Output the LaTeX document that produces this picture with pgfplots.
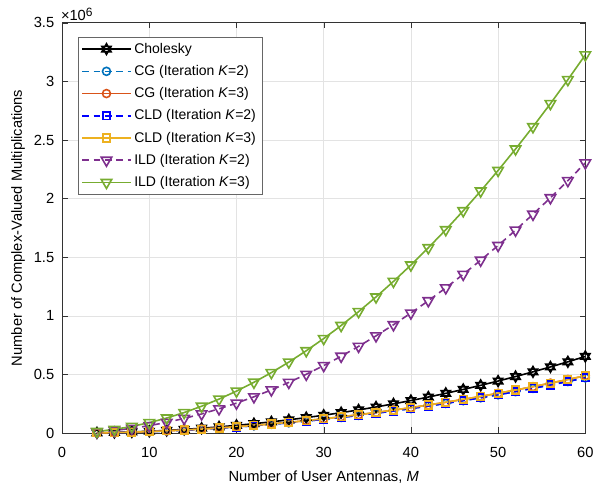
\documentclass[border=0pt]{standalone}
\usepackage{fontspec}
\setmainfont{Liberation Sans}
\usepackage{pgfplots}
\pgfplotsset{compat=1.18}

\definecolor{mblack}{rgb}{0,0,0}
\definecolor{mblue}{rgb}{0,0.447,0.741}
\definecolor{morange}{rgb}{0.85,0.325,0.098}
\definecolor{mpureblue}{rgb}{0,0,1}
\definecolor{myellow}{rgb}{0.929,0.694,0.125}
\definecolor{mpurple}{rgb}{0.494,0.184,0.556}
\definecolor{mgreen}{rgb}{0.466,0.674,0.188}

% six-pointed star marker (two triangles)
\pgfdeclareplotmark{hexagram}{%
  \pgfpathmoveto{\pgfqpointpolar{90}{\pgfplotmarksize}}%
  \pgfpathlineto{\pgfqpointpolar{210}{\pgfplotmarksize}}%
  \pgfpathlineto{\pgfqpointpolar{330}{\pgfplotmarksize}}%
  \pgfpathclose
  \pgfpathmoveto{\pgfqpointpolar{270}{\pgfplotmarksize}}%
  \pgfpathlineto{\pgfqpointpolar{30}{\pgfplotmarksize}}%
  \pgfpathlineto{\pgfqpointpolar{150}{\pgfplotmarksize}}%
  \pgfpathclose
  \pgfusepathqstroke
}

\begin{document}
\fontsize{11}{13}\selectfont
\begin{tikzpicture}
\begin{axis}[
  name=main,
  scale only axis,
  width=392pt, height=307.5pt,
  xmin=0, xmax=60, ymin=0, ymax=3.5e6,
  xtick={0,10,...,60},
  ytick={0,0.5e6,1e6,1.5e6,2e6,2.5e6,3e6,3.5e6},
  scaled y ticks=base 10:-6,
  ytick scale label code/.code={×10\raisebox{0.5ex}{\fontsize{9}{10}\selectfont 6}},
  every y tick scale label/.style={at={(axis description cs:0,1)}, anchor=south west, inner sep=0pt, xshift=1pt, yshift=1.5pt},
  /pgf/number format/assume math mode=true,
  tick align=inside,
  grid=major,
  major grid style={gray!22, line width=0.5pt},
  axis line style={black!80, line width=0.6pt},
  tick style={black!80},
  xlabel={Number of User Antennas, \textit{M}},
  ylabel={Number of Complex-Valued Multiplications},
  xlabel style={at={(axis description cs:0.5,0)}, anchor=center, yshift=-33pt},
  ylabel style={at={(axis description cs:-0.084,0.5)}, anchor=center},
  ticklabel style={font=\fontsize{11}{13}\selectfont},
  xticklabel style={yshift=-7pt},
  yticklabel style={xshift=-2pt},
  label style={font=\fontsize{11}{13}\selectfont},
  legend cell align=left,
  legend style={at={(axis description cs:0.03,0.966)}, anchor=north west,
    font=\fontsize{10.5}{12}\selectfont, draw=black!60, row sep=3.4pt, inner sep=2.5pt},
  legend image code/.code={\draw[mark repeat=2,mark phase=2,#1] plot coordinates {(0cm,0cm) (0.64cm,0cm) (1.28cm,0cm)};},
  legend image post style={line width=1.2pt},
]
\addplot[color=mblack, line width=1.2pt, mark=hexagram, mark size=4pt, mark options={solid}] coordinates {
(4,2551) (6,5770) (8,10308) (10,16186) (12,23422) (14,32035) (16,42044) (18,53469) (20,66328) (22,80641) (24,96424) (26,113700) (28,132487) (30,152802) (32,174666) (34,198096) (36,223114) (38,249737) (40,277984) (42,307875) (44,339427) (46,372661) (48,407596) (50,444250) (52,482643) (54,522792) (56,564718) (58,608440) (60,653976)};
\addlegendentry{Cholesky}
\addplot[color=mblue, line width=1.2pt, dash pattern=on 5pt off 3.5pt, mark=o, mark size=3pt, mark options={solid}] coordinates {
(4,2096) (6,4716) (8,8384) (10,13100) (12,18864) (14,25676) (16,33536) (18,42444) (20,52400) (22,63404) (24,75456) (26,88556) (28,102704) (30,117900) (32,134144) (34,151436) (36,169776) (38,189164) (40,209600) (42,231084) (44,253616) (46,277196) (48,301824) (50,327500) (52,354224) (54,381996) (56,410816) (58,440684) (60,471600)};
\addlegendentry{CG (Iteration \textit{K}=2)}
\addplot[color=morange, line width=1.2pt, mark=o, mark size=3pt, mark options={solid}] coordinates {
(4,2176) (6,4896) (8,8704) (10,13600) (12,19584) (14,26656) (16,34816) (18,44064) (20,54400) (22,65824) (24,78336) (26,91936) (28,106624) (30,122400) (32,139264) (34,157216) (36,176256) (38,196384) (40,217600) (42,239904) (44,263296) (46,287776) (48,313344) (50,340000) (52,367744) (54,396576) (56,426496) (58,457504) (60,489600)};
\addlegendentry{CG (Iteration \textit{K}=3)}
\addplot[color=mpureblue, line width=1.2pt, dash pattern=on 5pt off 3.5pt, mark=square, mark size=2.8pt, mark options={solid}] coordinates {
(4,2096) (6,4716) (8,8384) (10,13100) (12,18864) (14,25676) (16,33536) (18,42444) (20,52400) (22,63404) (24,75456) (26,88556) (28,102704) (30,117900) (32,134144) (34,151436) (36,169776) (38,189164) (40,209600) (42,231084) (44,253616) (46,277196) (48,301824) (50,327500) (52,354224) (54,381996) (56,410816) (58,440684) (60,471600)};
\addlegendentry{CLD (Iteration \textit{K}=2)}
\addplot[color=myellow, line width=1.2pt, mark=square, mark size=2.8pt, mark options={solid}] coordinates {
(4,2176) (6,4896) (8,8704) (10,13600) (12,19584) (14,26656) (16,34816) (18,44064) (20,54400) (22,65824) (24,78336) (26,91936) (28,106624) (30,122400) (32,139264) (34,157216) (36,176256) (38,196384) (40,217600) (42,239904) (44,263296) (46,287776) (48,313344) (50,340000) (52,367744) (54,396576) (56,426496) (58,457504) (60,489600)};
\addlegendentry{CLD (Iteration \textit{K}=3)}
\addplot[color=mpurple, line width=1.2pt, dash pattern=on 5pt off 3.5pt, mark=triangle, mark size=4.5pt, mark options={solid, rotate=180}] coordinates {
(4,10240) (6,23040) (8,40960) (10,64000) (12,92160) (14,125440) (16,163840) (18,207360) (20,256000) (22,309760) (24,368640) (26,432640) (28,501760) (30,576000) (32,655360) (34,739840) (36,829440) (38,924160) (40,1024000) (42,1128960) (44,1239040) (46,1354240) (48,1474560) (50,1600000) (52,1730560) (54,1866240) (56,2007040) (58,2152960) (60,2304000)};
\addlegendentry{ILD (Iteration \textit{K}=2)}
\addplot[color=mgreen, line width=1.2pt, mark=triangle, mark size=4.5pt, mark options={solid, rotate=180}] coordinates {
(4,14336) (6,32256) (8,57344) (10,89600) (12,129024) (14,175616) (16,229376) (18,290304) (20,358400) (22,433664) (24,516096) (26,605696) (28,702464) (30,806400) (32,917504) (34,1035776) (36,1161216) (38,1293824) (40,1433600) (42,1580544) (44,1734656) (46,1895936) (48,2064384) (50,2240000) (52,2422784) (54,2612736) (56,2809856) (58,3014144) (60,3225600)};
\addlegendentry{ILD (Iteration \textit{K}=3)}
\end{axis}
% fix the page margins to the reference's
\path (main.south west) +(-46.5pt,-42pt) (main.north east) +(17pt,17pt);
\end{tikzpicture}
\end{document}
